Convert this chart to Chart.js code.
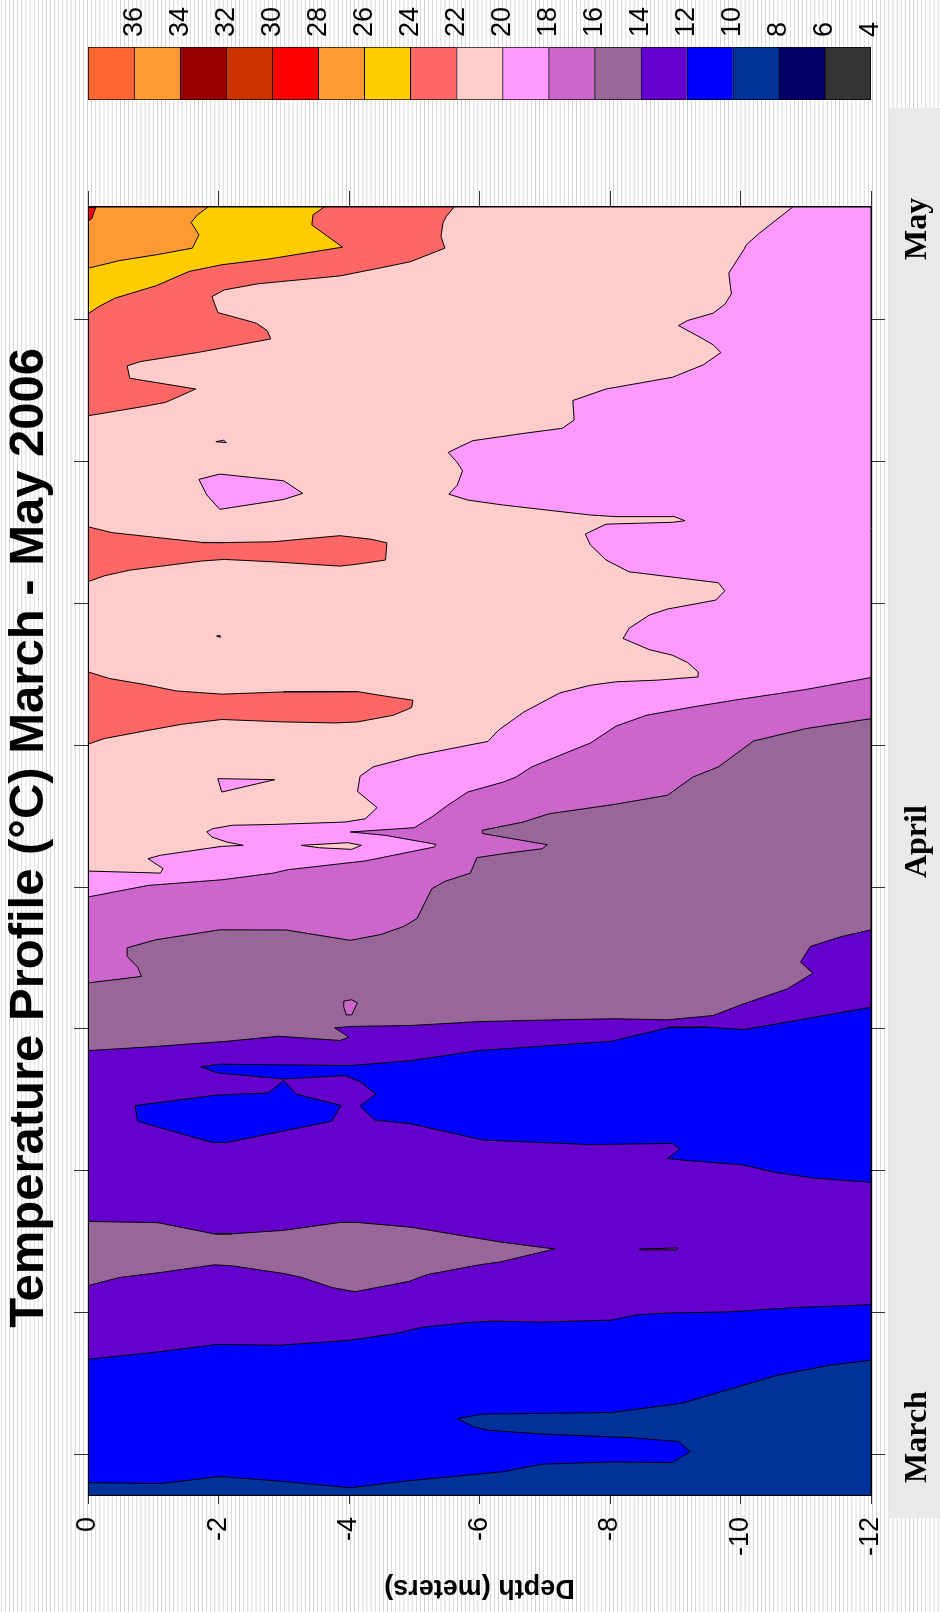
<!DOCTYPE html>
<html>
<head>
<meta charset="utf-8">
<script src="https://cdn.jsdelivr.net/npm/chart.js@4.4.1/dist/chart.umd.min.js"></script>
<style>
  html, body { margin: 0; padding: 0; }
  body {
    width: 940px; height: 1612px; overflow: hidden; position: relative;
    background-color: #fff;
    background-image: linear-gradient(to right, #fff 0px, #fff 1px, #d0d0d0 1px, #d0d0d0 2px, #fff 2px);
    background-size: 4.11px 100%;
    background-repeat: repeat-x;
  }
  #strip { position: absolute; left: 889px; top: 108px; width: 51px; height: 1410px; background: #e9e9e9; }
  #wrap { position: absolute; left: 0; top: 0; width: 1612px; height: 940px;
          transform-origin: 0 0; transform: translate(0, 1612px) rotate(-90deg); }
  #main { position: absolute; left: 0; top: 0; }
  #scale { position: absolute; left: 1490px; top: 0; }
</style>
</head>
<body>
<div id="strip"></div>
<div id="wrap">
  <canvas id="main" width="1430" height="940"></canvas>
  <canvas id="scale" width="122" height="940"></canvas>
</div>
<script>
// time in days after the first weekly tick, depth in meters
const timeMin = -2.05, timeMax = 61.56;
const depthMin = -12, depthMax = 0;
const weekTicks = [0, 7, 14, 21, 28, 35, 42, 49, 56];
const monthLabels = ['March', 'April', 'May'];
const monthPos = [0.86, 30.24, 60.48];

// colour scale: band [level, level + 2]
const levels = [4, 6, 8, 10, 12, 14, 16, 18, 20, 22, 24, 26, 28, 30, 32, 34, 36];
const levelColors = ['#333333', '#000066', '#003399', '#0000FF', '#6600CC', '#996699', '#CC66CC',
  '#FF99FF', '#FFCCCC', '#FF6666', '#FFCC00', '#FF9933', '#FF0000', '#CC3300', '#990000', '#FF9933', '#FF6633'];

// contour lines [time, depth]
const iso10 = [[-1.39,0],[-1.44,-1.11],[-1.09,-2.02],[-1.31,-2.92],[-1.64,-4.02],[-1.31,-4.88],[-0.85,-6.37],
  [-0.48,-6.96],[-0.37,-8.02],[-0.40,-8.96],[0.14,-9.23],[0.64,-9.05],[0.83,-8.33],[1.00,-7.00],[1.20,-6.13],
  [1.38,-5.90],[1.77,-5.66],[1.99,-6.05],[2.07,-8.02],[2.53,-9.11],[3.88,-10.53],[4.42,-11.39],[4.65,-12]];

const iso12 = [[4.70,0],[5.03,-1.0],[5.43,-1.98],[5.39,-2.92],[5.64,-4.02],[5.97,-4.72],[6.27,-5.11],[6.51,-5.82],
  [6.58,-6.21],[6.53,-6.92],[6.63,-8.02],[6.89,-8.41],[6.97,-8.8],[7.04,-9.82],[7.25,-10.84],[7.39,-12]];

// cold water (10-12) reaching up from the bottom in late March
const iso12Cold = [[13.43,-12],[13.63,-11.15],[13.92,-10.53],[14.30,-10.02],[14.50,-9.19],[14.61,-8.88],
  [15.07,-9.07],[15.35,-8.96],[15.29,-7.70],[15.52,-6.05],[16.31,-4.96],[16.51,-4.39],[17.20,-4.17],
  [17.79,-4.41],[18.40,-4.17],[18.70,-3.94],[18.53,-3.00],[18.83,-1.98],[19.13,-1.73],[19.26,-2.02],
  [19.19,-4.02],[19.44,-4.96],[19.93,-5.98],[20.39,-8.02],[21.05,-8.88],[21.08,-9.51],[20.97,-10.05],
  [21.36,-10.76],[21.50,-11.00],[22.07,-12]];

const iso14 = [[19.93,0],[20.10,-0.88],[20.39,-2.13],[20.64,-2.92],[20.43,-3.86],[20.59,-4.0],[21.05,-3.78],
  [21.12,-4.02],[21.17,-4.96],[21.36,-5.98],[21.46,-7.31],[21.50,-8.09],[21.45,-8.88],[21.66,-9.58],
  [22.24,-10.05],[22.98,-10.72],[23.75,-11.11],[24.30,-10.92],[25.07,-11.07],[25.56,-11.55],[25.89,-12]];
const warm14 = [[11.50,0],[11.44,-1.07],[10.88,-1.94],[10.89,-2.21],[11.06,-3.0],[11.45,-3.86],[11.45,-4.13],
  [11.21,-4.96],[10.50,-6.29],[10.14,-7.15],[9.51,-6.33],[9.35,-5.98],[8.87,-5.19],[8.54,-4.92],[8.03,-4.09],
  [8.24,-3.74],[8.74,-3.27],[8.93,-3.0],[9.31,-2.21],[9.36,-1.94],[8.98,-1.11],[8.74,-0.49],[8.33,0]];
const sliver14 = [[10.14,-8.45],[10.19,-9.04],[10.09,-9.0],[10.10,-8.49]];

const iso16 = [[23.27,0],[23.59,-0.82],[24.05,-0.76],[24.58,-0.60],[25.00,-0.60],[25.40,-1.04],[25.89,-2.02],
  [25.88,-3.04],[25.37,-4.02],[25.66,-4.49],[26.06,-4.84],[26.44,-5.04],[27.92,-5.27],[28.28,-5.47],
  [28.69,-5.86],[29.45,-5.96],[29.65,-6.37],[29.89,-6.96],[30.09,-7.04],[30.64,-6.05],[30.80,-6.04],
  [31.21,-6.67],[31.62,-7.07],[32.07,-8.05],[32.53,-8.88],[33.43,-9.27],[33.93,-9.66],[35.21,-10.2],
  [35.82,-11.0],[36.31,-12]];
const drop16 = [[22.37,-3.92],[22.44,-4.04],[22.29,-4.13],[21.69,-4.04],[21.69,-3.96],[22.07,-3.92]];

const iso18 = [[27.51,0],[28.08,-0.92],[28.36,-2.05],[28.69,-2.84],[28.86,-3.07],[29.29,-4.25],[29.98,-5.31],
  [30.11,-5.33],[30.55,-4.56],[30.72,-4.02],[30.93,-5.0],[31.46,-5.27],[32.03,-5.51],[32.69,-5.82],
  [33.19,-6.37],[33.43,-6.56],[33.93,-6.80],[34.50,-7.23],[35.11,-7.70],[35.94,-8.09],[36.48,-8.56],
  [36.89,-9.27],[37.22,-9.90],[37.75,-11.0],[38.34,-12]];

const iso20 = [[28.79,0],[28.69,-1.11],[28.91,-1.15],[29.40,-0.92],[29.57,-1.11],[30.01,-2.05],[30.06,-2.38],
  [30.22,-2.13],[30.47,-1.90],[30.72,-1.82],[30.88,-1.91],[31.05,-2.21],[31.09,-2.84],[31.21,-3.94],
  [31.37,-4.25],[31.92,-4.43],[32.72,-4.13],[33.47,-4.17],[33.93,-4.37],[34.50,-5.04],[35.19,-6.13],
  [35.74,-6.29],[36.64,-6.68],[37.58,-7.23],[37.96,-7.70],[38.13,-8.09],[38.21,-8.72],[38.37,-9.35],
  [38.62,-9.35],[39.08,-9.19],[39.44,-8.96],[39.72,-8.60],[40.27,-8.20],[40.76,-8.29],[41.42,-8.60],
  [41.72,-8.88],[42.16,-9.62],[42.62,-9.76],[43.02,-9.66],[43.56,-8.29],[44.14,-7.94],[44.88,-7.70],
  [45.42,-7.62],[45.91,-7.94],[46.00,-8.96],[46.08,-9.15],[46.31,-8.96],[46.28,-8.09],[46.36,-7.70],
  [46.85,-6.37],[47.10,-5.82],[47.39,-5.53],[47.84,-5.66],[48.55,-5.74],[48.99,-5.65],[49.45,-5.52],
  [49.73,-5.70],[50.03,-5.90],[50.39,-6.68],[50.64,-7.27],[51.05,-7.45],[52.01,-7.43],[52.58,-7.94],
  [53.16,-8.96],[53.77,-9.43],[54.38,-9.70],[54.76,-9.58],[55.12,-9.39],[55.71,-9.05],[55.96,-9.19],
  [56.32,-9.58],[56.76,-9.76],[57.27,-9.86],[58.30,-9.82],[59.45,-10.05],[59.70,-10.09],[60.27,-10.29],
  [61.56,-10.80]];
const island20 = [[30.06,-3.27],[30.19,-3.98],[30.06,-4.19],[29.86,-4.04],[29.94,-3.55]];

const iso22 = [[51.26,0],[51.71,-0.84],[51.92,-1.19],[52.58,-1.65],[53.11,-0.64],[53.72,-0.60],[53.93,-0.80],
  [54.38,-1.68],[55.05,-2.80],[55.45,-2.75],[55.83,-2.58],[56.35,-1.99],[57.14,-1.90],[57.47,-2.09],
  [57.77,-2.60],[58.16,-3.86],[58.51,-4.41],[58.86,-4.94],[59.53,-5.47],[60.11,-5.41],[60.77,-5.44],
  [61.09,-5.49],[61.56,-5.61]];
const tongue22a = [[45.78,0],[45.49,-0.37],[45.01,-1.74],[45.00,-2.09],[45.04,-2.84],[45.34,-3.86],[45.17,-4.33],
  [44.99,-4.58],[44.14,-4.56],[43.92,-4.09],[43.84,-3.86],[44.05,-2.84],[44.17,-2.09],[44.09,-1.74],
  [43.64,-0.64],[43.36,-0.25],[43.07,0]];
const tongue22b = [[38.62,0],[38.29,-0.33],[37.99,-0.88],[37.68,-1.35],[37.52,-2.05],[37.63,-3.0],[37.66,-3.78],
  [37.63,-4.13],[37.42,-4.56],[37.22,-4.98],[36.86,-4.96],[36.48,-4.68],[36.15,-4.13],[36.10,-3.78],
  [36.15,-3.0],[36.27,-2.05],[36.03,-1.43],[35.71,-0.88],[35.33,-0.25],[35.05,0]];

const iso24 = [[56.29,0],[56.65,-0.17],[57.06,-0.41],[57.67,-1.04],[58.38,-1.55],[58.71,-2.05],[58.99,-2.76],
  [59.58,-3.90],[60.68,-3.43],[61.18,-3.45],[61.56,-3.62]];
const iso26 = [[58.54,0],[58.92,-0.49],[59.20,-1.04],[59.53,-1.60],[60.19,-1.70],[60.80,-1.58],[61.18,-1.68],
  [61.56,-1.84]];
const patch28 = [[61.56,0],[61.56,-0.12],[61.0,-0.06],[60.85,0]];

// colder pockets
const bluePatch = [[17.22,-0.72],[17.74,-1.98],[17.84,-2.76],[18.45,-3.0],[17.79,-3.19],[17.22,-3.88],
  [16.44,-3.73],[15.40,-2.13],[15.40,-1.90],[16.44,-0.76]];
const pinkPatch = [[48.12,-1.70],[48.38,-2.02],[48.05,-3.0],[47.43,-3.29],[47.13,-3.0],[46.64,-2.02],[47.35,-1.82]];
const pinkTri = [[33.35,-1.99],[33.30,-2.86],[32.69,-2.05]];
const dotA = [[49.98,-1.96],[50.05,-2.08],[49.93,-2.12]];
const dotB = [[40.38,-1.97],[40.43,-2.02],[40.33,-2.03]];

const sans = 'Liberation Sans';
const bandColor = lo => levelColors[levels.indexOf(lo)];
const toBottom = [[timeMax, depthMin], [timeMax, depthMax]];
const toTop = [[timeMax, depthMax]];
const frameRect = [[timeMin, depthMax], [timeMax, depthMax], [timeMax, depthMin], [timeMin, depthMin]];

// painted in this order, warmer on top
const layers = [
  [frameRect, 8],
  [iso10.concat(toBottom), 10],
  [iso12.concat(iso12Cold, toBottom), 12],
  [iso14.concat(toBottom), 14],
  [warm14, 14],
  [sliver14, 14],
  [iso16.concat(toBottom), 16],
  [drop16, 16],
  [iso18.concat(toBottom), 18],
  [iso20.concat(toTop), 20],
  [island20, 20],
  [iso22.concat(toTop), 22],
  [tongue22a, 22],
  [tongue22b, 22],
  [iso24.concat(toTop), 24],
  [iso26.concat(toTop), 26],
  [patch28, 28],
  [bluePatch, 10],
  [pinkPatch, 18],
  [pinkTri, 18],
  [dotA, 18],
  [dotB, 18]
];

const closed = pts => pts.concat([pts[0]]).map(p => ({x: p[0], y: p[1]}));

const datasets = layers.map(([pts, lo], i) => ({
  data: closed(pts),
  backgroundColor: bandColor(lo),
  borderColor: '#000',
  borderWidth: 1,
  borderJoinStyle: 'round',
  fill: 'shape',
  pointRadius: 0,
  tension: 0,
  xAxisID: 'x',
  yAxisID: 'y',
  order: -i
}));

const frameBorder = {display: true, color: '#000', width: 1, z: 1};

new Chart(document.getElementById('main'), {
  type: 'line',
  data: {datasets: datasets},
  options: {
    responsive: false,
    animation: false,
    events: [],
    layout: {padding: 0},
    plugins: {
      legend: {display: false},
      tooltip: {enabled: false},
      title: {
        display: true,
        text: '\u00A0\u00A0Temperature Profile (°C) March - May 2006',
        fullSize: false,
        color: '#000',
        font: {family: sans, size: 49, weight: 'bold', lineHeight: 1.2},
        padding: {top: 0, bottom: 0}
      }
    },
    scales: {
      x: {
        type: 'linear', position: 'bottom', min: timeMin, max: timeMax,
        afterBuildTicks: s => {
          s.ticks = weekTicks.concat(monthPos).sort((a, b) => a - b).map(v => ({value: v}));
        },
        afterFit: s => { s.height = 69; },
        ticks: {
          autoSkip: false, maxRotation: 0, padding: 14, color: '#000',
          font: {family: 'Liberation Serif', size: 32, weight: 'bold'},
          callback: v => {
            const k = monthPos.indexOf(v);
            return k >= 0 ? monthLabels[k] : '';
          }
        },
        grid: {
          drawOnChartArea: false, tickLength: 14,
          tickColor: c => (c.tick && monthPos.includes(c.tick.value)) ? 'rgba(0,0,0,0)' : '#333'
        },
        border: frameBorder
      },
      x2: {
        type: 'linear', position: 'top', min: timeMin, max: timeMax,
        afterBuildTicks: s => { s.ticks = weekTicks.map(v => ({value: v})); },
        afterFit: s => { s.height = 29.2; },
        ticks: {display: false},
        grid: {drawOnChartArea: false, tickLength: 14, tickColor: '#333'},
        border: frameBorder
      },
      y: {
        type: 'linear', position: 'left', min: depthMin, max: depthMax,
        afterFit: s => { s.width = 116; },
        ticks: {stepSize: 2, padding: 13, color: '#000', font: {family: sans, size: 27}},
        grid: {drawOnChartArea: false, tickLength: 8, tickColor: '#333'},
        border: frameBorder,
        title: {
          display: true, text: 'Depth (meters)', color: '#000',
          font: {family: sans, size: 27, weight: 'bold'},
          padding: {top: 8, bottom: 0}
        }
      },
      y2: {
        type: 'linear', position: 'right', min: depthMin, max: depthMax,
        afterFit: s => { s.width = 25; },
        ticks: {display: false, stepSize: 2},
        grid: {drawOnChartArea: false, tickLength: 16, tickColor: '#333'},
        border: frameBorder
      }
    }
  }
});

// colour bar
new Chart(document.getElementById('scale'), {
  type: 'bar',
  data: {
    labels: [''],
    datasets: levels.map((lo, i) => ({
      data: [[lo, lo + 2]],
      backgroundColor: levelColors[i],
      borderColor: '#000',
      borderWidth: {top: 1, left: 1, right: 1, bottom: i === 0 ? 1 : 0},
      borderSkipped: false,
      grouped: false,
      barPercentage: 1,
      categoryPercentage: 1
    }))
  },
  options: {
    responsive: false,
    animation: false,
    events: [],
    layout: {padding: {top: 88, bottom: 69, left: 22, right: 0}},
    plugins: {legend: {display: false}, tooltip: {enabled: false}},
    scales: {
      x: {display: false},
      y: {
        position: 'right', min: 4, max: 38,
        afterFit: s => { s.width = 47; },
        ticks: {stepSize: 2, padding: 10, color: '#000', font: {family: sans, size: 27},
          callback: v => v >= 38 ? '' : v},
        grid: {display: false, drawTicks: false},
        border: {display: false}
      }
    }
  }
});
</script>
</body>
</html>
